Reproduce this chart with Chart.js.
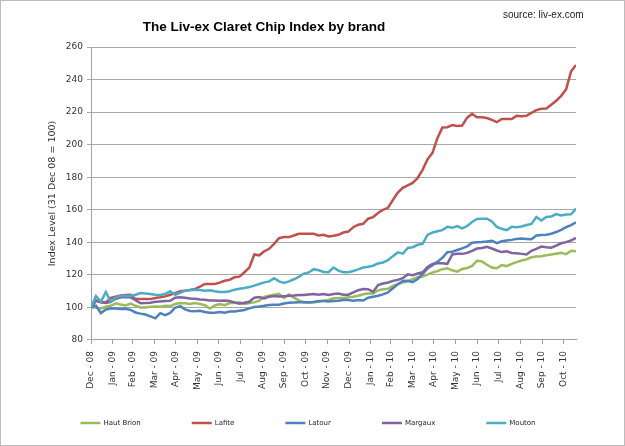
<!DOCTYPE html>
<html><head><meta charset="utf-8">
<script src="https://cdn.jsdelivr.net/npm/chart.js@4/dist/chart.umd.min.js"></script>
<style>html,body{margin:0;padding:0;background:#fff;}</style>
</head><body>
<canvas id="c" width="625" height="446"></canvas>
<script>
const seriesNames = ["Haut Brion", "Lafite", "Latour", "Margaux", "Mouton"];
const seriesColors = ["#9BBB59", "#C0504D", "#4F81BD", "#8064A2", "#4BACC6"];

const hautBrion = [100,100,99.4,100.4,101,102.5,101.8,101.2,102.3,101,100,100,100.4,100.6,100.4,101,100.8,102.1,102.7,102.5,102.1,102.7,102.1,101.4,99.3,101.2,102.1,101.4,102.7,102.7,103.1,102.1,102.7,103.1,104.1,106.5,107.2,107.8,108.3,105.8,108,106,104.3,103.2,103.1,103.2,103.5,104.1,104.6,105.6,105.8,105.8,106.2,106.6,107.2,108.1,108.6,108.6,110.5,111.2,111.4,113.2,114.3,115.3,116,117.3,118.5,119,120.2,121.5,122.3,123.5,124,122.8,122,123.6,124.2,125.5,128.7,128.3,126.2,124.5,124.1,126,125.4,126.8,127.8,128.8,129.5,130.8,131.3,131.4,132,132.5,133,133.5,132.7,134.8,134.5];
const lafite = [100,104.1,103.1,103.1,105.8,106.6,107.4,107.6,107.8,105.1,105.1,105.1,105.1,105.8,106.2,106.8,107.8,108.8,109.9,110.3,110.7,111.3,112.7,114.4,114.4,114.4,115.2,116.4,116.9,118.5,118.9,121.6,124.5,132.5,132,134.5,136,139,142.5,143.2,143.2,144.2,145.2,145.2,145.2,145.2,144.2,144.6,143.6,144,144.6,146,146.6,149.3,150.8,151.4,154.5,155.5,158,160,161.2,166,170.5,173.5,175,176.5,179.5,184.5,191,195,204,210.5,210.7,212,211.5,211.7,216.6,218.9,216.8,216.8,216.4,215.2,213.8,215.8,215.8,215.8,217.7,217.5,217.7,219.5,221.2,222,222.2,224.5,227,230,234,245,249];
const latour = [100,101,96.5,98.7,99.3,99.3,99.1,99.2,98.5,96.9,96.2,95.6,94.5,93.3,96.5,95.3,96.6,99.8,100.8,98.8,97.8,97.6,98,97.2,96.7,96.8,97.2,96.7,97.5,97.5,98,98.4,99.4,100.3,100.6,101,101.5,101.6,101.6,102.4,102.8,103,103.2,103.2,103.1,103.3,104,103.9,103.7,104,104.1,104.5,104.5,104.1,104.5,104.2,106,106.6,107.2,108,109.2,111.8,114.2,116.3,116.4,115.5,117.5,120.5,124,126,128,130.5,133.9,134.2,135.3,136.3,137.5,139.7,140,140.2,140.5,141,139.5,140.6,141.1,141.5,142.1,142.3,142.1,141.9,144.2,144.5,144.6,145.3,146.3,147.7,149.3,150.6,152.3];
const margaux = [100,104.3,103.1,102.7,103.5,105.3,106.2,106.2,106.2,104.5,102.6,102.7,102.9,103.5,103.7,103.9,104.1,106,106.2,106,105.5,105.3,104.9,104.7,104.3,104.3,104.1,104.3,103.9,103.1,102.3,102.9,103.5,106,106.4,105.5,106.6,107,106.7,106.9,107.1,107.3,107.7,107.6,107.9,108.2,107.8,108.2,107.7,108.2,108.5,107.8,107.8,109.2,110.6,111.3,111.2,109.5,113.8,114.7,115.3,116.3,116.9,118,120.3,119.8,120.8,121.6,124.8,126.7,127.1,127.1,126.8,132.5,132.9,132.9,133.5,134.8,136.2,136.5,137.3,136.2,135,134,134.5,133.5,133.3,132.9,132.5,134.8,136,137.4,137,136.7,138,139.4,140.1,141.1,142.7];
const mouton = [100,107,103.5,109.5,103.5,106.2,107,107.2,107,107.8,108.8,108.6,108.2,107.8,107.6,108.2,109.9,107.8,109,110.3,110.7,110.9,110.7,110.3,110.5,109.9,109.5,109.5,109.9,110.9,111.5,111.9,112.5,113.4,114.4,115.4,116,118,116,115,116,117.3,118.7,120.8,121.5,123.5,122.8,121.8,121.6,124.5,122.6,121.6,121.6,122.4,123.4,124.5,125,125.6,127,127.6,129,131.5,133.8,133,136.5,137,138.5,139,144.5,146,146.8,147.5,149.5,148.9,150,148.5,150,152.5,154.3,154.5,154.5,152.8,149.5,148.3,147.5,149.5,149.3,149.7,150.6,151.3,155.5,153.4,155.6,155.9,157.3,156.5,157.1,157.2,160.8];

const tickLabels = ["Dec - 08","Jan - 09","Feb - 09","Mar - 09","Apr - 09","May - 09","Jun - 09","Jul - 09","Aug - 09","Sep - 09","Oct - 09","Nov - 09","Dec - 09","Jan - 10","Feb - 10","Mar - 10","Apr - 10","May - 10","Jun - 10","Jul - 10","Aug - 10","Sep - 10","Oct - 10"];

// weekly observations starting 31 Dec 2008 (day offsets)
const startDate = new Date(2008, 11, 31);
const DAY = 86400000;
const weekDays = hautBrion.map((_, i) => i * 7);
// month-end tick positions (day offsets) for each tick label
const tickDays = tickLabels.map((_, k) => Math.round((new Date(2008, 12 + k, 0) - startDate) / DAY));

const seriesData = [hautBrion, lafite, latour, margaux, mouton];

const chromePlugin = {
  id: 'chrome',
  beforeDraw(chart) {
    const c = chart.ctx;
    c.save();
    c.fillStyle = '#ffffff';
    c.fillRect(0, 0, chart.width, chart.height);
    c.restore();
  },
  afterDraw(chart) {
    const c = chart.ctx;
    c.save();
    c.strokeStyle = '#bcbcbc';
    c.lineWidth = 1;
    c.strokeRect(0.5, 0.5, chart.width - 1, chart.height - 1);
    // title + source note
    c.fillStyle = '#000000';
    c.textBaseline = 'middle';
    c.textAlign = 'center';
    c.font = "bold 13.5px 'Liberation Sans', Arial, sans-serif";
    c.fillText('The Liv-ex Claret Chip Index by brand', 264, 27);
    c.textAlign = 'left';
    c.font = "10px 'Liberation Sans', Arial, sans-serif";
    c.fillStyle = '#222222';
    c.fillText('source: liv-ex.com', 503, 15);
    // legend (one row, evenly gapped)
    c.font = "7px 'DejaVu Sans', Verdana, sans-serif";
    const lineW = 20, textGap = 3, gap = 51, cy = 423, cx = 308;
    const items = chart.data.datasets.map(ds => ({
      text: ds.label, color: ds.borderColor, lw: ds.borderWidth,
      w: lineW + textGap + c.measureText(ds.label).width
    }));
    const total = items.reduce((s, it) => s + it.w, 0) + gap * (items.length - 1);
    let x = cx - total / 2;
    items.forEach(it => {
      c.strokeStyle = it.color;
      c.lineWidth = it.lw;
      c.beginPath();
      c.moveTo(x, cy);
      c.lineTo(x + lineW, cy);
      c.stroke();
      c.fillStyle = '#222222';
      c.fillText(it.text, x + lineW + textGap, cy);
      x += it.w + gap;
    });
    c.restore();
  }
};

Chart.defaults.font.family = "'DejaVu Sans', Verdana, sans-serif";

new Chart(document.getElementById('c'), {
  type: 'line',
  data: {
    labels: weekDays,
    datasets: seriesNames.map((name, k) => ({
      label: name,
      data: seriesData[k],
      borderColor: seriesColors[k],
      backgroundColor: seriesColors[k],
      borderWidth: 2.5,
      pointRadius: 0,
      tension: 0,
      fill: false,
      order: seriesNames.length - k
    }))
  },
  options: {
    responsive: false,
    animation: false,
    events: [],
    layout: { padding: { left: 40, right: 49, top: 47, bottom: 49 } },
    plugins: {
      tooltip: { enabled: false },
      title: { display: false },
      legend: { display: false }
    },
    scales: {
      x: {
        type: 'linear',
        min: 0,
        max: weekDays[weekDays.length - 1],
        afterBuildTicks: (s) => { s.ticks = tickDays.map(v => ({ value: v })); },
        ticks: {
          autoSkip: false,
          minRotation: 90,
          maxRotation: 90,
          padding: 7,
          color: '#333333',
          font: { size: 9 },
          callback: (v, i) => tickLabels[i]
        },
        grid: { drawOnChartArea: false, tickLength: 4, color: '#a0a0a0' },
        border: { color: '#a0a0a0' }
      },
      y: {
        min: 80,
        max: 260,
        afterFit: (s) => { s.width = 51; },
        ticks: { stepSize: 20, padding: 4, color: '#333333', font: { size: 9 } },
        grid: { color: '#a8a8a8', tickLength: 4 },
        border: { color: '#a0a0a0' },
        title: {
          display: true,
          text: 'Index Level (31 Dec 08 = 100)',
          color: '#333333',
          font: { size: 9.5 },
          padding: { top: 7, bottom: 0 }
        }
      }
    }
  },
  plugins: [chromePlugin]
});
</script>
</body></html>
